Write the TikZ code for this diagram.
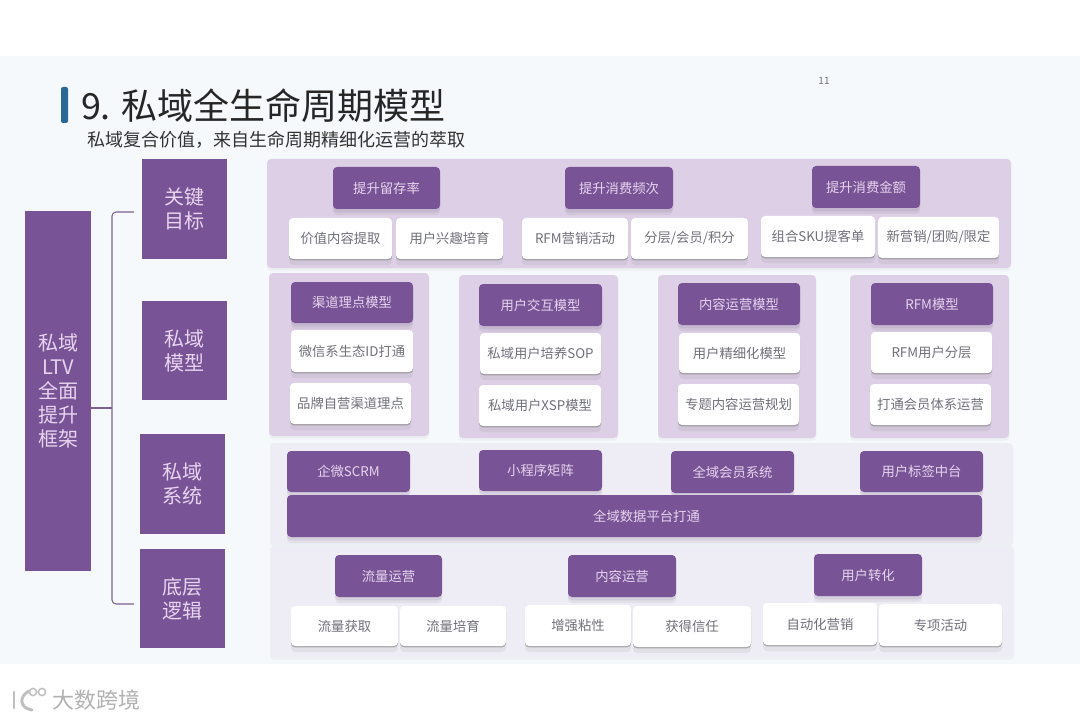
\documentclass[tikz,border=0pt]{standalone}
\usepackage{fontspec}
\setmainfont{Noto Sans CJK SC}
\usepackage{tikz}
\definecolor{slidebg}{RGB}{246,249,252}
\definecolor{lifepurple}{RGB}{120,84,150}
\definecolor{palepurple}{RGB}{221,208,230}
\definecolor{palegray}{RGB}{238,237,245}
\definecolor{lilactext}{RGB}{232,212,238}
\definecolor{graytext}{RGB}{112,112,122}
\definecolor{titleblue}{RGB}{44,104,150}
\usetikzlibrary{shadows}

\begin{document}
\begin{tikzpicture}[x=0.75pt, y=-0.75pt, font=\fontsize{10}{12}\selectfont,
		box/.style={inner sep=0pt, outer sep=0pt, align=center},
		keybox/.style={box, fill=lifepurple, text=lilactext, font=\fontsize{15}{18}\selectfont},
		headbox/.style={box, fill=lifepurple, text=lilactext, rounded corners=3pt,
			drop shadow={shadow xshift=0pt, shadow yshift=-4.5pt, opacity=.08, fill=black!70},
			drop shadow={shadow xshift=0pt, shadow yshift=-2.5pt, opacity=.12, fill=lifepurple}},
		itembox/.style={box, fill=white, text=graytext, rounded corners=3pt,
			drop shadow={shadow xshift=0pt, shadow yshift=-4.5pt, opacity=.08, fill=black!70},
			drop shadow={shadow xshift=0pt, shadow yshift=-1pt, opacity=.55, fill=black!55}},
		band/.style={box, rounded corners=3pt,
			drop shadow={shadow xshift=0pt, shadow yshift=-2pt, opacity=.06, fill=black!60}},
		bracketline/.style={color=lifepurple!70!gray, line width=.8pt, rounded corners=3pt}]
		%Hintergrund
		\useasboundingbox (0,0) rectangle (1080,720);
		\fill[white] (0,0) rectangle (1080,720);
		\fill[slidebg] (0,56) rectangle (1080,664);
		% Titel
		\fill[titleblue, rounded corners=1.5pt] (61,87) rectangle (68,123);
		\node (title) [box, anchor=west, font=\fontsize{27}{30}\selectfont, text=black!85] at (81,106) {9. 私域全生命周期模型};
		\node (subtitle) [box, anchor=west, font=\fontsize{13.5}{16}\selectfont, text=black!80] at (87,140) {私域复合价值，来自生命周期精细化运营的萃取};
		\node (pagenum) [box, font=\fontsize{7.5}{9}\selectfont, text=black!55] at (824,81) {11};
		% Flaechen
		\foreach \n/\xa/\ya/\xb/\yb/\c in {bandgoal/267/159/1011/268/palepurple,
			cardone/269/273/429/436/palepurple, cardtwo/459/275/618/438/palepurple,
			cardthree/658/275/816/438/palepurple, cardfour/850/275/1009/438/palepurple,
			bandsys/270/443/1013/544/palegray, bandbase/270/546/1014/657/palegray}
			\node (\n) [band, fill=\c, minimum width={(\xb-\xa)*.75pt}, minimum height={(\yb-\ya)*.75pt}] at ({(\xa+\xb)/2},{(\ya+\yb)/2}) {};
		% Linke Spalte
		\foreach \n/\xa/\ya/\xb/\yb/\t in {frame/25/211/91/571/{私域\\LTV\\全面\\提升\\框架},
			keygoal/142/159/227/259/{关键\\目标}, keymodel/142/301/227/400/{私域\\模型},
			keysys/140/434/225/534/{私域\\系统}, keybase/140/549/225/648/{底层\\逻辑}}
			\node (\n) [keybox, minimum width={(\xb-\xa)*.75pt}, minimum height={(\yb-\ya)*.75pt}] at ({(\xa+\xb)/2},{(\ya+\yb)/2}) {\t};
		% Klammer
		\coordinate (bracetop) at (134,212);
		\coordinate (bracebot) at (134,604);
		\coordinate (bracemid) at (112,408);
		\draw[bracketline] (bracetop) -- (112,212) -- (112,604) -- (bracebot);
		\draw[bracketline] (bracemid) -- (frame.east |- bracemid);
		% Dunkle Kaesten
		\foreach \n/\xa/\ya/\xb/\yb/\t in {retain/333/167/440/209/提升留存率, freq/565/167/673/209/提升消费频次, amount/812/166/920/208/提升消费金额,
			channel/291/282/413/323/渠道理点模型, interact/479/284/602/326/用户交互模型, content/678/283/800/325/内容运营模型, rfm/871/283/993/325/RFM模型,
			scrm/287/451/410/492/企微SCRM, miniapp/479/450/602/491/小程序矩阵, member/671/451/794/493/全域会员系统, tagging/860/451/983/492/用户标签中台,
			traffic/335/555/442/597/流量运营, contentop/568/555/676/597/内容运营, convert/814/554/922/596/用户转化}
			\node (\n) [headbox, minimum width={(\xb-\xa)*.75pt}, minimum height={(\yb-\ya)*.75pt}] at ({(\xa+\xb)/2},{(\ya+\yb)/2}) {\t};
		\node (dataplat) [headbox, minimum width=521.25pt, minimum height=31.5pt] at (634.5,516) {\hspace*{18pt}全域数据平台打通};
		% Helle Kaesten
		\foreach \n/\xa/\ya/\xb/\yb/\t in {valuetext/289/218/392/259/价值内容提取, interest/396/218/503/259/用户兴趣培育,
			rfmact/522/218/628/259/RFM营销活动, tier/631/218/748/259/{分层/会员/积分},
			bundle/761/216/875/257/组合SKU提客单, promo/878/217/999/258/{新营销/团购/限定},
			wechat/291/330/413/372/微信系生态ID打通, brand/290/383/411/424/品牌自营渠道理点,
			sop/480/333/601/374/私域用户培养SOP, xsp/479/385/601/426/私域用户XSP模型,
			refine/679/333/800/373/用户精细化模型, topic/678/384/799/425/专题内容运营规划,
			rfmtier/871/332/992/373/RFM用户分层, vipsys/870/384/991/425/打通会员体系运营,
			acquire/291/606/398/646/流量获取, nurture/400/606/506/646/流量培育,
			sticky/525/605/631/646/增强粘性, trust/633/606/751/647/获得信任,
			automkt/763/603/877/645/自动化营销, campaign/879/604/1002/646/专项活动}
			\node (\n) [itembox, minimum width={(\xb-\xa)*.75pt}, minimum height={(\yb-\ya)*.75pt}] at ({(\xa+\xb)/2},{(\ya+\yb)/2}) {\t};
		% Wasserzeichen
		\draw[black!25, line width=2.2pt, line cap=round] (14,692) -- (14,708);
		\draw[black!25, line width=2.2pt, line cap=round] (29,691) .. controls (19,696) and (19,708) .. (32,710);
		\draw[black!25, line width=1.1pt] (33,692) circle (3.6) (42,692) circle (3.6);
		\node (mark) [box, anchor=west, font=\fontsize{16.5}{18}\selectfont, text=black!30] at (52,700) {大数跨境};
	\end{tikzpicture}
\end{document}
